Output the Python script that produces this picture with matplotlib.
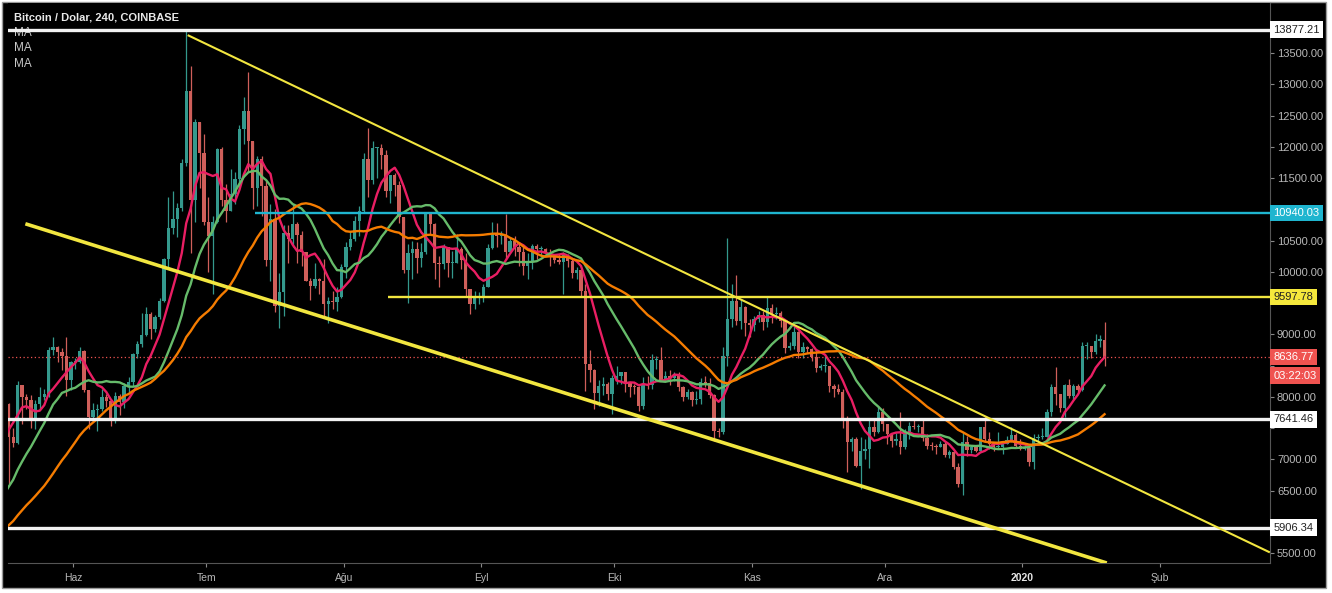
# Bitcoin / Dolar 4h chart (Coinbase), recreated with daily candles

import matplotlib
matplotlib.use('Agg')
import matplotlib.pyplot as plt
import matplotlib.dates as mdates
import matplotlib.transforms as mtransforms
from matplotlib.patches import Rectangle
import numpy as np
import pandas as pd

plt.rcParams['font.family'] = ['Liberation Sans', 'DejaVu Sans']

# daily candles, 2019-04-14 .. 2020-01-19 (first weeks only warm up the MAs)
start_day = '2019-04-14'

close = [
    5160, 5030, 5220, 5270, 5290, 5280, 5340, 5300, 5400, 5530, 5440, 5190, 5260, 5270, 5260, 5210, 5320,  # apr
    5380, 5490, 5760, 5820, 5720, 5690, 5800, 5950, 6150, 6350, 7250, 6980, 7800, 7980, 8200, 7880, 7350, 7260, 8190, 7990, 7950, 7620, 7880, 7990, 8050, 8750, 8800, 8720, 8660, 8270, 8550,  # may
    8560, 8740, 8110, 7680, 7790, 7800, 8000, 7930, 7630, 8020, 7920, 8170, 8230, 8690, 8850, 8990, 9330, 9080, 9270, 9530, 10200, 10700, 10850, 11020, 11750, 12900, 11150, 12400, 11900, 10800,  # jun
    10580, 10800, 11970, 11150, 10980, 11250, 11480, 12290, 12580, 12100, 11350, 11800, 11380, 10190, 10850, 9450, 9680, 10630, 10530, 10760, 10590, 10320, 9850, 9780, 9880, 9850, 9480, 9530, 9520, 9590, 10080,  # jul
    10400, 10520, 10820, 10980, 11800, 11470, 11980, 11980, 11870, 11300, 11550, 11390, 10880, 10030, 10300, 10370, 10220, 10320, 10920, 10760, 10140, 10130, 10400, 10140, 10140, 10370, 10190, 9720, 9490, 9590, 9600,  # aug
    9760, 10390, 10630, 10570, 10580, 10320, 10490, 10400, 10320, 10100, 10160, 10420, 10360, 10360, 10310, 10260, 10190, 10160, 10270, 10170, 9980, 10030, 9690, 8530, 8430, 8060, 8180, 8200, 8050, 8300,  # sep
    8330, 8390, 8240, 8160, 8150, 7860, 8210, 8190, 8590, 8590, 8270, 8330, 8300, 8370, 8160, 8000, 8080, 7950, 7960, 8230, 8220, 8030, 7460, 7430, 8660, 9250, 9540, 9220, 9430, 9180, 9150,  # oct
    9250, 9310, 9200, 9420, 9320, 9340, 9210, 8780, 8810, 9040, 8720, 8800, 8760, 8630, 8460, 8490, 8500, 8170, 8120, 8080, 7620, 7280, 7330, 6900, 7130, 7160, 7520, 7430, 7750, 7560,  # nov
    7400, 7300, 7300, 7200, 7400, 7540, 7510, 7520, 7340, 7220, 7210, 7190, 7250, 7070, 7110, 6880, 6610, 7280, 7150, 7190, 7140, 7510, 7320, 7250, 7190, 7200, 7250, 7310, 7390, 7220, 7170,  # dec
    7180, 6950, 7340, 7350, 7360, 7760, 8160, 8040, 7820, 8190, 8020, 8180, 8110, 8810, 8810, 8710, 8900, 8910, 8636.77,  # jan
]

high = [
    5180, 5200, 5230, 5300, 5340, 5330, 5360, 5360, 5480, 5620, 5650, 5510, 5390, 5320, 5300, 5300, 5340,
    5400, 5530, 5880, 5900, 5840, 5760, 5970, 6000, 6180, 6450, 7450, 7500, 8100, 8300, 8270, 8350, 7900, 7500, 8250, 8190, 8050, 8030, 7950, 8150, 8130, 8800, 8950, 8820, 8780, 8950, 8580,
    8620, 8800, 8750, 8110, 7900, 7880, 8130, 8050, 7950, 8070, 8050, 8220, 8310, 8700, 8900, 9340, 9430, 9350, 9310, 9580, 10220, 11200, 11300, 11100, 11800, 13880, 13300, 12450, 12400, 12200,
    11200, 10900, 11980, 12000, 11400, 11650, 11600, 12350, 12800, 13200, 12100, 11850, 11850, 11450, 11080, 11000, 9990, 10750, 10750, 11080, 10800, 10650, 10320, 9900, 10150, 9900, 10200, 9600, 9700, 9750, 10120,
    10480, 10650, 10900, 11050, 11900, 12300, 12100, 12000, 12050, 11950, 11550, 11580, 11450, 10880, 10450, 10500, 10480, 10470, 10950, 10950, 10780, 10250, 10450, 10400, 10330, 10600, 10400, 10300, 9720, 9690, 9670,
    9800, 10450, 10800, 10780, 10650, 10920, 10550, 10580, 10480, 10400, 10300, 10450, 10450, 10420, 10380, 10370, 10280, 10280, 10320, 10280, 10200, 10080, 10050, 9800, 8750, 8450, 8270, 8320, 8230, 8350,
    8500, 8400, 8400, 8230, 8200, 8180, 8320, 8340, 8680, 8650, 8800, 8420, 8430, 8400, 8400, 8170, 8120, 8100, 8100, 8300, 8330, 8300, 8040, 7500, 8800, 10540, 9800, 9950, 9550, 9450, 9250,
    9290, 9380, 9370, 9600, 9480, 9430, 9370, 9230, 8870, 9130, 9050, 8870, 8820, 8780, 8770, 8530, 8650, 8500, 8200, 8200, 8120, 7700, 7350, 7350, 7350, 7330, 7650, 7630, 7860, 7820,
    7540, 7420, 7420, 7750, 7490, 7600, 7630, 7560, 7650, 7400, 7280, 7250, 7300, 7280, 7150, 7130, 6940, 7440, 7370, 7220, 7200, 7520, 7700, 7430, 7270, 7440, 7300, 7370, 7520, 7420, 7320,
    7250, 7200, 7400, 7400, 7500, 7800, 8200, 8470, 8050, 8200, 8290, 8200, 8200, 8880, 8880, 8800, 9000, 8990, 9190,
]

low = [
    5030, 4990, 5030, 5200, 5260, 5200, 5270, 5230, 5280, 5390, 5400, 5130, 5090, 5220, 5200, 5180, 5200,
    5310, 5370, 5470, 5600, 5680, 5590, 5690, 5760, 5950, 6100, 6340, 6780, 6930, 7590, 7880, 7750, 6600, 7200, 7250, 7560, 7800, 7500, 7480, 7800, 7950, 8000, 8670, 8550, 8430, 8020, 8110,
    8450, 8540, 8080, 7480, 7590, 7460, 7770, 7830, 7530, 7580, 7710, 7820, 8070, 8170, 8620, 8800, 8980, 8930, 9040, 9250, 9520, 10050, 10600, 10560, 10980, 11700, 10300, 10800, 11350, 10750,
    10000, 9650, 10780, 11050, 10800, 10970, 11080, 11350, 12050, 11600, 11000, 11060, 10900, 10100, 9860, 9350, 9100, 9300, 10150, 10400, 10150, 10100, 9850, 9550, 9740, 9650, 9300, 9180, 9400, 9380, 9580,
    9900, 10350, 10500, 10580, 10960, 11200, 11400, 11500, 11650, 11200, 11100, 11210, 10780, 9980, 9500, 9880, 9980, 10080, 10280, 10600, 9880, 9750, 10050, 9920, 9900, 10150, 10050, 9620, 9330, 9400, 9480,
    9520, 9750, 10360, 10400, 10450, 10200, 10300, 10250, 10100, 9950, 9880, 10050, 10200, 10250, 10270, 10100, 10150, 10130, 9650, 10080, 9910, 9880, 9600, 8100, 8230, 7800, 7850, 8030, 7950, 7730,
    8200, 8200, 8080, 8000, 8050, 7780, 7800, 8130, 8120, 8450, 8250, 8260, 8190, 8250, 8100, 7930, 7960, 7850, 7880, 7880, 8150, 7980, 7300, 7350, 7400, 8500, 9120, 9150, 9080, 8980, 8950,
    9050, 9200, 9070, 9120, 9180, 9250, 9120, 8700, 8750, 8770, 8620, 8620, 8700, 8570, 8400, 8430, 8400, 8070, 8000, 8050, 7500, 6800, 7140, 6880, 6520, 7010, 6860, 7380, 7420, 7460,
    7250, 7200, 7230, 7080, 7170, 7320, 7490, 7430, 7300, 7170, 7150, 7080, 7190, 7030, 7020, 6850, 6560, 6430, 7050, 7100, 7110, 7130, 7270, 7160, 7140, 7160, 7080, 7250, 7280, 7180, 7150,
    7150, 6900, 6850, 7270, 7320, 7350, 7700, 7870, 7760, 7680, 7980, 7970, 8070, 8100, 8600, 8620, 8680, 8800, 8500,
]

ma_periods = [8, 17, 33]          # ~50 / 100 / 200 bars of 4h
ma_colors = ['#e91e63', '#66bb6a', '#f57c00']

# drawn levels
white_levels = [13877.21, 7641.46, 5906.34]
cyan_level, cyan_from = 10940.03, '2019-07-12'
yellow_level, yellow_from = 9597.78, '2019-08-11'
countdown = '03:22:03'

# trend lines (date, price) end points
upper_trend = (['2019-06-26 20:00', '2020-02-25 18:00'], [13790, 5510])
lower_trend = (['2019-05-21 06:00', '2020-01-20 00:00'], [10770, 5340])

price_ticks = np.arange(5500, 14001, 500)
month_ticks = ['2019-06-01', '2019-07-01', '2019-08-01', '2019-09-01', '2019-10-01',
               '2019-11-01', '2019-12-01', '2020-01-01', '2020-02-01']
month_labels = ['Haz', 'Tem', 'Ağu', 'Eyl', 'Eki', 'Kas', 'Ara', '2020', 'Şub']

dates = pd.date_range(start_day, periods=len(close), freq='D')
df = pd.DataFrame({'close': close, 'high': high, 'low': low}, index=dates)
df['open'] = df['close'].shift(1).fillna(df['close'])
x = mdates.date2num(df.index.to_pydatetime()) + 0.5

W, H = 1332, 593
fig = plt.figure(figsize=(W / 100, H / 100), dpi=100, facecolor='white')
fig.patches.append(Rectangle((2 / W, 5 / H), 1324 / W, 586 / H, transform=fig.transFigure,
                             facecolor='black', edgecolor='#9a9a9a', lw=1, zorder=-10))
ax = fig.add_axes((8 / W, 30 / H, 1262 / W, 560 / H))
ax.set_facecolor('black')

# candles
up = df['close'] >= df['open']
cols = np.where(up, '#34998d', '#cf5f5a')
ax.vlines(x, df['low'], df['high'], colors=cols, lw=0.9, zorder=2)
body = (df['close'] - df['open']).abs().clip(lower=20)
ax.bar(x, body, bottom=df[['open', 'close']].min(axis=1), width=0.75, color=cols, lw=0, zorder=2)

# moving averages
for p, c in zip(ma_periods, ma_colors):
    ax.plot(x, df['close'].rolling(p).mean(), color=c, lw=1.7, zorder=3)

# levels
for lv in white_levels:
    ax.axhline(lv, color='#f2f2f2', lw=2.4, zorder=5)
ax.hlines(cyan_level, mdates.datestr2num(cyan_from), mdates.datestr2num('2020-03-15'),
          color='#1fb5cf', lw=1.7, zorder=5)
ax.hlines(yellow_level, mdates.datestr2num(yellow_from), mdates.datestr2num('2020-03-15'),
          color='#f2e640', lw=1.7, zorder=5)
ax.axhline(close[-1], color='#ef5350', lw=0.9, ls=(0, (1, 2)), zorder=4)

for (d, p), lw in ((upper_trend, 1.5), (lower_trend, 2.6)):
    ax.plot(mdates.datestr2num(d), p, color='#f2e640', lw=lw, zorder=5, solid_capstyle='butt')

ax.set_xlim(mdates.datestr2num('2019-05-17 08:00'), mdates.datestr2num('2020-02-25 19:00'))
ax.set_ylim(5340, 14304)

# axes look
for s in ('top', 'left'):
    ax.spines[s].set_visible(False)
for s in ('bottom', 'right'):
    ax.spines[s].set_color('#555555')
boxed = white_levels + [cyan_level, yellow_level, close[-1]]
ax.yaxis.tick_right()
ax.set_yticks(price_ticks)
# tick labels hidden behind a price box are left out
ax.set_yticklabels(['' if min(abs(v - b) for b in boxed) < 160 else '{:.2f}'.format(v)
                    for v in price_ticks])
ax.tick_params(axis='y', colors='#888888', labelcolor='#b8b8b8', labelsize=8, length=3, pad=2)
ax.set_xticks(mdates.datestr2num(month_ticks))
ax.set_xticklabels(month_labels)
ax.tick_params(axis='x', colors='#888888', labelcolor='#b8b8b8', labelsize=7.5, length=3, pad=4)
for t in ax.get_xticklabels():
    if t.get_text() == '2020':
        t.set_fontweight('bold')
        t.set_color('#e6e6e6')

# price boxes on the right axis
tr = mtransforms.blended_transform_factory(ax.transAxes, ax.transData)


def price_box(val, text, fc, tc, dy=0):
    ax.annotate(text, xy=(1.0, val), xycoords=tr, xytext=(2.5, dy), textcoords='offset points',
                ha='left', va='center', fontsize=8, color=tc, zorder=10, annotation_clip=False,
                bbox=dict(boxstyle='square,pad=0.3', fc=fc, ec='none'))


for lv in white_levels:
    price_box(lv, '{:.2f}'.format(lv), '#ffffff', '#222222')
price_box(cyan_level, '{:.2f}'.format(cyan_level), '#1fb5cf', '#ffffff')
price_box(yellow_level, '{:.2f}'.format(yellow_level), '#f5e83c', '#222222')
price_box(close[-1], '{:.2f}'.format(close[-1]), '#ef5350', '#ffffff')
price_box(close[-1], countdown, '#ef5350', '#ffffff', dy=-13.5)

# header texts
ax.text(14 / W, 1 - 17 / H, 'Bitcoin / Dolar, 240, COINBASE', transform=fig.transFigure,
        fontsize=8, fontweight='bold', color='#e8e8e8', va='center', zorder=6)
for yy in (33, 48, 64):
    ax.text(14 / W, 1 - yy / H, 'MA', transform=fig.transFigure,
            fontsize=8.5, color='#c8c8c8', va='center', zorder=4)

plt.savefig('out.png', dpi=100, facecolor='white')
